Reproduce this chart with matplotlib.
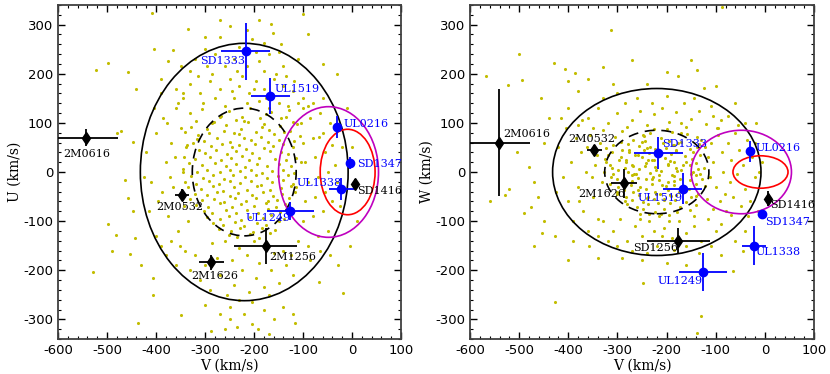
import matplotlib
matplotlib.use('Agg')
import matplotlib.pyplot as plt
from matplotlib.patches import Ellipse
from matplotlib.ticker import MultipleLocator
import numpy as np

# Поле звёзд гало (V, U), оценено по рисунку
uv_field = [
    (-409, 324), (-101, 322), (-522, 208), (-499, 221), (-457, 203), (-405, 251), (-335, 292), (-166, 302),
    (-190, 310), (-250, 298), (-270, 310), (-162, 284), (-180, 262), (-230, 255), (-205, 270), (-300, 250),
    (-280, 240), (-350, 215), (-320, 230), (-240, 230), (-215, 215), (-190, 225), (-170, 240), (-150, 245),
    (-140, 215), (-260, 215), (-295, 215), (-235, 205), (-180, 205), (-155, 200), (-330, 205), (-270, 275),
    (-215, 290), (-145, 260), (-195, 245), (-375, 225), (-300, 275), (-365, 248),
    (-390, 190), (-360, 170), (-330, 180), (-310, 160), (-290, 185), (-270, 170), (-250, 190), (-230, 175),
    (-210, 160), (-195, 185), (-180, 170), (-160, 190), (-140, 175), (-120, 165), (-100, 150), (-280, 150),
    (-240, 150), (-215, 140), (-190, 145), (-150, 140), (-130, 135), (-305, 140), (-345, 150), (-260, 135),
    (-170, 130), (-225, 195), (-245, 165), (-200, 170), (-175, 150), (-118, 185), (-355, 140), (-315, 195),
    (-285, 200), (-135, 195), (-110, 140), (-90, 135),
    (-306, 128), (-268, 114), (-252, 124), (-225, 113), (-209, 130), (-176, 118), (-165, 122), (-134, 111),
    (-128, 126), (-318, 104), (-285, 99), (-270, 112), (-236, 106), (-221, 103), (-188, 109), (-179, 97),
    (-145, 110), (-120, 101), (-329, 91), (-296, 87), (-281, 101), (-258, 95), (-227, 88), (-213, 101),
    (-183, 92), (-170, 86), (-148, 93), (-112, 98), (-340, 82), (-314, 76), (-291, 80), (-262, 84),
    (-240, 79), (-230, 77), (-197, 82), (-159, 78), (-138, 81), (-127, 84), (-106, 74), (-317, 68),
    (-303, 63), (-276, 70), (-249, 62), (-220, 69), (-207, 65), (-186, 71), (-172, 61), (-150, 66),
    (-118, 64), (-336, 55), (-325, 59), (-288, 52), (-265, 57), (-244, 50), (-231, 54), (-198, 57),
    (-180, 49), (-162, 53), (-140, 58), (-121, 50), (-312, 44), (-300, 39), (-277, 45), (-255, 37),
    (-236, 42), (-216, 46), (-204, 38), (-168, 43), (-146, 40), (-130, 36), (-342, 31), (-321, 27),
    (-289, 31), (-268, 25), (-246, 29), (-225, 32), (-211, 24), (-190, 29), (-157, 27), (-135, 24),
    (-115, 28), (-333, 18), (-307, 14), (-280, 19), (-258, 13), (-237, 17), (-219, 11), (-194, 16),
    (-173, 13), (-150, 17), (-125, 12), (-345, 6), (-317, 1), (-296, 4), (-270, -1), (-250, 5),
    (-228, 2), (-206, 5), (-184, -2), (-163, 3), (-140, 4), (-118, -3), (-328, -8), (-304, -12),
    (-283, -7), (-262, -14), (-242, -6), (-218, -11), (-197, -7), (-174, -13), (-152, -9), (-131, -6),
    (-340, -20), (-318, -24), (-291, -19), (-271, -25), (-250, -19), (-229, -23), (-207, -18), (-186, -26),
    (-163, -20), (-141, -17), (-121, -24), (-334, -31), (-309, -35), (-284, -29), (-263, -38), (-240, -30),
    (-214, -36), (-194, -29), (-168, -37), (-145, -32), (-124, -28), (-321, -44), (-297, -47), (-275, -41),
    (-250, -49), (-232, -43), (-205, -46), (-181, -40), (-162, -49), (-142, -45), (-117, -41), (-330, -54),
    (-306, -58), (-282, -55), (-261, -61), (-239, -53), (-217, -59), (-196, -52), (-172, -60), (-153, -56),
    (-129, -52), (-318, -67), (-294, -71), (-270, -64), (-244, -72), (-227, -66), (-200, -69), (-176, -63),
    (-156, -71), (-137, -66), (-303, -79), (-285, -83), (-258, -77), (-236, -84), (-215, -78), (-192, -83),
    (-171, -75), (-148, -82), (-124, -78), (-297, -92), (-270, -96), (-252, -90), (-226, -97), (-209, -91),
    (-181, -94), (-165, -88), (-138, -96), (-283, -104), (-264, -108), (-238, -101), (-220, -110), (-193, -103),
    (-176, -107), (-150, -100), (-272, -116), (-246, -121), (-228, -114), (-202, -122), (-184, -113), (-158, -118),
    (-252, -128), (-234, -133), (-208, -127), (-190, -134), (-168, -125),
    (-420, 40), (-410, -20), (-400, 80), (-395, -60), (-385, 110), (-380, 20), (-375, -90), (-370, 60),
    (-365, -30), (-360, 130), (-355, -120), (-350, 90), (-345, 0), (-342, -70), (-338, 50), (-335, -100),
    (-400, -130), (-390, -150), (-380, -170), (-370, -140), (-415, -80), (-425, -10), (-405, 130), (-390, 160),
    (-372, -10), (-362, 30), (-352, -150), (-388, -40), (-378, 100), (-360, -190), (-340, -160), (-330, -200),
    (-320, -170), (-330, 120), (-345, 160),
    (-105, 100), (-100, 60), (-95, 20), (-90, -20), (-95, -60), (-100, -100), (-85, 110), (-80, 70),
    (-75, 30), (-70, -10), (-75, -50), (-80, -90), (-65, 120), (-60, 80), (-55, 40), (-50, 0),
    (-55, -40), (-60, -80), (-45, 100), (-40, 55), (-35, 15), (-30, -20), (-40, -60), (-110, -140),
    (-90, -150), (-70, -130), (-50, -120), (-85, -180), (-65, -160), (-105, 20), (-115, -30), (-60, 150),
    (-80, 140), (-100, 130), (-20, 50), (-25, -70),
    (-310, -220), (-290, -240), (-270, -210), (-255, -250), (-240, -230), (-225, -200), (-210, -245), (-195, -215),
    (-180, -235), (-165, -200), (-150, -225), (-135, -190), (-120, -210), (-245, -180), (-215, -170), (-190, -185),
    (-160, -165), (-275, -175), (-300, -190), (-230, -155), (-200, -140), (-140, -160), (-260, -140), (-285, -145),
    (-125, -170), (-170, -250), (-230, -260), (-205, -265), (-250, -275),
    (-288, -324), (-192, -320), (-116, -308), (-349, -292), (-437, -308), (-407, -251), (-270, -290), (-250, -300),
    (-220, -290), (-205, -310), (-180, -280), (-160, -300), (-140, -275), (-120, -290), (-300, -270), (-235, -315),
    (-170, -330), (-260, -320),
    (-471, 83), (-446, 62), (-464, -17), (-458, -53), (-446, -79), (-499, -106), (-482, -128), (-490, -160),
    (-528, -203), (-407, -215), (-453, -167), (-443, -135), (-480, 80), (-440, 170), (-430, -190),
    (-29, -190), (-18, -247), (-67, 71), (-67, -223), (-10, 130), (-5, -150), (0, 50), (10, -100),
    (-45, -170), (-30, 200), (-60, 220), (-90, 280), (-110, 230),
]

# Поле звёзд гало (V, W)
vw_field = [
    (-291, 84), (-247, 74), (-226, 88), (-190, 81), (-171, 79), (-139, 72),
    (-306, 71), (-268, 66), (-249, 75), (-212, 69), (-195, 63), (-158, 77), (-131, 66),
    (-309, 55), (-293, 61), (-257, 52), (-243, 64), (-208, 59), (-184, 54), (-171, 62), (-135, 58), (-122, 51),
    (-323, 49), (-290, 44), (-279, 57), (-246, 45), (-234, 51), (-201, 49), (-187, 55), (-152, 46), (-139, 50),
    (-319, 35), (-311, 40), (-277, 41), (-265, 34), (-235, 39), (-224, 46), (-191, 36), (-181, 43), (-147, 40),
    (-133, 35), (-326, 26), (-293, 30), (-282, 24), (-250, 31), (-238, 25), (-204, 29), (-193, 22), (-162, 32),
    (-149, 26), (-116, 30), (-323, 21), (-315, 15), (-283, 20), (-271, 14), (-241, 19), (-229, 24), (-197, 16),
    (-184, 21), (-152, 15), (-140, 19), (-311, 9), (-299, 4), (-268, 13), (-256, 6), (-223, 10), (-212, 3),
    (-181, 8), (-167, 14), (-136, 6), (-124, 9), (-327, 0), (-310, -5), (-278, 1), (-266, -4), (-234, -3),
    (-222, 5), (-190, -6), (-178, 2), (-146, -1), (-133, -5), (-313, -11), (-301, -15), (-270, -6), (-259, -13),
    (-227, -10), (-216, -16), (-184, -9), (-173, -15), (-141, -7), (-129, -14), (-316, -25), (-284, -20),
    (-273, -26), (-242, -15), (-229, -24), (-198, -21), (-186, -27), (-153, -16), (-141, -25), (-298, -31),
    (-286, -36), (-254, -30), (-242, -35), (-210, -26), (-198, -37), (-166, -30), (-155, -34), (-122, -29),
    (-300, -45), (-268, -41), (-256, -47), (-224, -40), (-213, -44), (-181, -47), (-168, -36), (-136, -45),
    (-282, -51), (-270, -56), (-238, -50), (-226, -55), (-194, -46), (-182, -57), (-150, -50),
    (-281, -65), (-249, -61), (-237, -66), (-205, -54), (-193, -64), (-161, -62), (-141, -67),
    (-261, -71), (-249, -76), (-217, -64), (-205, -75), (-173, -72), (-153, -77),
    (-255, -85), (-223, -81), (-211, -86), (-179, -82),
    (-276, 45), (-258, 35), (-240, 48), (-226, 24), (-212, 36), (-198, 15), (-180, 44), (-170, 5),
    (-262, -5), (-244, 12), (-230, -15), (-216, -6), (-202, -28), (-186, -18), (-174, -40), (-258, -36),
    (-240, -52), (-222, -44), (-206, -58), (-192, -48), (-270, -18), (-284, 8), (-296, 25), (-300, -40),
    (-160, 20), (-150, -5), (-140, -48), (-250, 62), (-234, 80), (-200, 88), (-176, 60), (-285, -60),
    (-195, -88), (-215, -90), (-235, -85),
    (-360, 110), (-340, 130), (-320, 100), (-300, 120), (-285, 140), (-270, 105), (-255, 125), (-240, 95),
    (-225, 118), (-210, 130), (-195, 102), (-180, 122), (-165, 140), (-150, 108), (-135, 125), (-120, 98),
    (-105, 115), (-95, 90), (-330, 150), (-300, 160), (-260, 150), (-230, 140), (-200, 155), (-170, 100),
    (-145, 150), (-110, 135), (-380, 95), (-350, 90), (-280, 92), (-160, 92),
    (-420, 50), (-410, -10), (-405, 90), (-400, -60), (-395, 20), (-390, -100), (-385, 70), (-380, -30),
    (-375, 40), (-370, -80), (-365, 0), (-360, -120), (-355, 75), (-350, -50), (-345, 15), (-340, -95),
    (-335, 60), (-332, -20), (-425, -40), (-415, 110), (-400, 130), (-390, -140), (-372, 105), (-358, -150),
    (-340, -130), (-330, 85), (-342, 35), (-352, -10), (-362, 50), (-378, -60),
    (-330, -100), (-310, -120), (-295, -95), (-280, -140), (-265, -110), (-250, -130), (-235, -100), (-220, -150),
    (-205, -115), (-190, -135), (-175, -100), (-160, -125), (-145, -110), (-130, -140), (-115, -95), (-100, -120),
    (-90, -105), (-300, -150), (-270, -160), (-240, -165), (-210, -130), (-185, -158), (-160, -150), (-135, -165),
    (-110, -150), (-255, -95), (-195, -100), (-145, -90), (-320, -140), (-225, -120),
    (-110, 60), (-105, 20), (-100, -30), (-95, 75), (-92, -60), (-88, 40), (-85, 0), (-80, -80),
    (-76, 60), (-72, -20), (-68, 25), (-64, -50), (-60, 80), (-56, -5), (-52, 45), (-48, -70),
    (-44, 15), (-40, -35), (-36, 65), (-30, -60), (-26, 30), (-20, -10), (-15, -80), (-105, -75),
    (-98, 90), (-82, -45), (-70, -88), (-112, -10), (-90, 105), (-75, 115), (-55, 95), (-35, -90),
    (-12, 0), (-40, 100), (-118, -55),
    (-313, 290), (-87, 335), (-567, 195), (-500, 240), (-523, 178), (-495, 187), (-430, 221), (-406, 210),
    (-386, 202), (-401, 185), (-330, 214), (-271, 229), (-150, 229), (-139, 208), (-200, 204), (-176, 195),
    (-123, 172), (-19, 100), (-428, -265), (-130, -293), (-139, -328), (-249, -227), (-64, -201), (-454, -125),
    (-427, -131), (-491, -84), (-529, -46), (-475, -72), (-461, -50), (-470, -20), (-480, 10), (-505, 40),
    (-450, 60), (-440, 110), (-455, 150), (-470, -150), (-450, -100), (-520, -35), (-560, -60), (-250, -180),
    (-290, -175), (-200, -185), (-160, -190), (-90, -170), (-60, -140), (-40, -120), (-20, -150), (-310, 180),
    (-240, 180), (-100, 175), (-60, 140), (-20, 60), (-5, 20), (-45, -160), (-340, -175), (-400, -180),
    (-380, 165), (-360, 190),
]

# Объекты с измерениями (чёрные)
black_names_u = ['2M0616', '2M0532', '2M1626', '2M1256', 'SD1416']
black_names_w = ['2M0616', '2M0532', '2M1626', 'SD1256', 'SD1416']
v_black = [-542, -347, -287, -176, 7]
v_black_err = [65, 15, 26, 64, 4]
u_black = [70, -46, -184, -150, -24]
u_black_err = [18, 12, 15, 37, 10]
w_black = [60, 44, -23, -140, -54]
w_black_err = [108, 10, 29, 25, 15]

# Объекты с измерениями (синие)
blue_names = ['SD1333', 'UL1519', 'UL0216', 'SD1347', 'UL1338', 'UL1249']
v_blue = [-217, -167, -31, -5, -22, -126]
v_blue_err = [50, 40, 8, 8, 25, 48]
u_blue = [246, 155, 92, 18, -35, -80]
u_blue_err = [58, 36, 22, 12, 22, 18]
w_blue = [39, -34, 42, -86, -150, -204]
w_blue_err = [32, 31, 21, 6, 40, 39]

# Позиции подписей (левый край, центр по высоте)
lab_black_u = [(-590, 37), (-399, -72), (-329, -212), (-169, -173), (11, -38)]
lab_blue_u = [(-309, 227), (-159, 168), (-18, 97), (11, 17), (-113, -22), (-218, -94)]
lab_black_w = [(-532, 77), (-400, 67), (-379, -44), (-269, -154), (10, -67)]
lab_blue_w = [(-210, 58), (-259, -52), (-20, 48), (0, -102), (-20, -162), (-218, -222)]

# Эллипсы дисперсий: центр V, полуось V, полуось U, полуось W
ell_center_v = [-220, -220, -48, -9]
ell_semi_v = [212, 106, 102, 56]
ell_semi_u = [262, 130, 133, 87]
ell_semi_w = [170, 85, 85, 33]
ell_colors = ['black', 'black', 'm', 'red']
ell_styles = ['-', (0, (6, 4)), '-', '-']

plt.rcParams['axes.unicode_minus'] = False

fig = plt.figure(figsize=(8.3, 3.74), dpi=100)
ax1 = fig.add_axes([0.0699, 0.0936, 0.4133, 0.893])
ax2 = fig.add_axes([0.5663, 0.0936, 0.4145, 0.893])

uv = np.array(uv_field)
vw = np.array(vw_field)

panels = [
    (ax1, uv, u_black, u_black_err, u_blue, u_blue_err, ell_semi_u,
     black_names_u, lab_black_u, lab_blue_u, 'U (km/s)'),
    (ax2, vw, w_black, w_black_err, w_blue, w_blue_err, ell_semi_w,
     black_names_w, lab_black_w, lab_blue_w, 'W (km/s)'),
]

for ax, fld, yb, yb_err, yl, yl_err, semi_y, bnames, lab_b, lab_l, ylabel in panels:
    ax.scatter(fld[:, 0], fld[:, 1], s=5, color=(0.76, 0.74, 0.0), linewidths=0, zorder=1)

    for cx, sv, sy, c, ls in zip(ell_center_v, ell_semi_v, semi_y, ell_colors, ell_styles):
        ax.add_patch(Ellipse((cx, 0), 2 * sv, 2 * sy, fill=False, edgecolor=c,
                             linestyle=ls, linewidth=1.2, zorder=2))

    ax.errorbar(v_black, yb, xerr=v_black_err, yerr=yb_err, fmt='d', color='black',
                ms=6, elinewidth=1.3, capsize=0, zorder=3)
    ax.errorbar(v_blue, yl, xerr=v_blue_err, yerr=yl_err, fmt='o', color='#0000ff',
                ms=6, elinewidth=1.3, capsize=0, zorder=3)

    for name, (x, y) in zip(bnames, lab_b):
        ax.text(x, y, name, ha='left', va='center', fontsize=8, family='DejaVu Serif',
                color='black', zorder=4)
    for name, (x, y) in zip(blue_names, lab_l):
        ax.text(x, y, name, ha='left', va='center', fontsize=8, family='DejaVu Serif',
                color='#0000ff', zorder=4)

    ax.set_xlim(-600, 100)
    ax.set_ylim(-340, 340)
    ax.xaxis.set_major_locator(MultipleLocator(100))
    ax.xaxis.set_minor_locator(MultipleLocator(20))
    ax.yaxis.set_major_locator(MultipleLocator(100))
    ax.yaxis.set_minor_locator(MultipleLocator(20))
    ax.tick_params(which='both', direction='in', top=True, right=True, labelsize=9.5)
    ax.tick_params(which='major', length=5, width=1)
    ax.tick_params(which='minor', length=2.5, width=0.8)
    for sp in ax.spines.values():
        sp.set_linewidth(1.3)
        sp.set_color('0.25')
    ax.set_xlabel('V (km/s)', family='DejaVu Serif', fontsize=10, labelpad=1)
    ax.set_ylabel(ylabel, family='DejaVu Serif', fontsize=10, labelpad=1)

plt.savefig('out.png', dpi=100)
plt.close()
